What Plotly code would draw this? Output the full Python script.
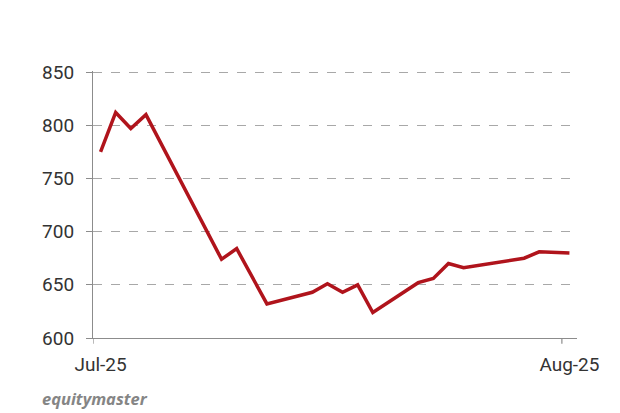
import plotly.graph_objects as go

dates = ["2025-07-01", "2025-07-02", "2025-07-03", "2025-07-04", "2025-07-09",
         "2025-07-10", "2025-07-12", "2025-07-15", "2025-07-16", "2025-07-17",
         "2025-07-18", "2025-07-19", "2025-07-22", "2025-07-23", "2025-07-24",
         "2025-07-25", "2025-07-29", "2025-07-30", "2025-08-01"]
prices = [775, 812, 797, 810, 674, 684, 632, 643, 651, 643, 650, 624, 652,
          656, 670, 666, 675, 681, 680]
x_tick_vals = ["2025-07-01", "2025-08-01"]
x_tick_text = ["Jul-25", "Aug-25"]
x_tick_marks = ["2025-06-30 12:00", "2025-07-31 12:00"]
y_ticks = [600, 650, 700, 750, 800, 850]

fig = go.Figure()
fig.add_trace(go.Scatter(x=dates, y=prices, mode="lines",
                         line=dict(color="#B0141C", width=3.5),
                         hoverinfo="skip", showlegend=False))

for tv in x_tick_marks:
    fig.add_shape(type="line", xref="x", yref="paper", x0=tv, x1=tv,
                  y0=0, y1=-0.022, line=dict(color="#8c8c8c", width=1.2))

fig.add_annotation(text="<b><i>equitymaster</i></b>", xref="paper", yref="paper",
                   x=-0.11, y=-0.226, xanchor="left", yanchor="middle",
                   showarrow=False, font=dict(family="Open Sans", size=16.5, color="#858585"))

fig.update_layout(
    width=620, height=413,
    margin=dict(l=85, r=51, t=63, b=83),
    paper_bgcolor="white", plot_bgcolor="white",
    font=dict(family="Roboto", color="#333333"),
    xaxis=dict(range=["2025-06-30 12:00", "2025-08-01 12:00"],
               tickvals=x_tick_vals, ticktext=x_tick_text, automargin=False,
               ticks="", showgrid=False, showline=True, linecolor="#8c8c8c",
               linewidth=1.2, tickfont=dict(size=19, color="#333333"),
               ticklabelstandoff=9, zeroline=False),
    yaxis=dict(range=[600, 851], tickvals=y_ticks, ticks="outside", ticklen=6,
               tickcolor="#8c8c8c", showline=True, linecolor="#8c8c8c", linewidth=1.2,
               showgrid=True, gridcolor="#a8a8a8", griddash="dash", gridwidth=1.2,
               tickfont=dict(size=19, color="#333333"), ticklabelstandoff=8,
               zeroline=False, automargin=False),
)

fig.write_html("out.html")
